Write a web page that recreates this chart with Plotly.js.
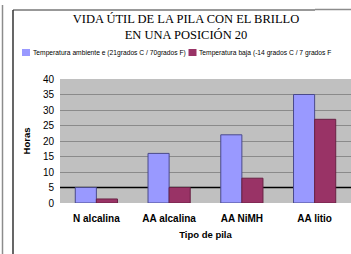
<!DOCTYPE html>
<html>
<head>
<meta charset="utf-8">
<script src="https://cdn.plot.ly/plotly-3.0.1.min.js"></script>
<style>html,body{margin:0;padding:0;background:#fff;}#chart{width:351px;height:254px;}</style>
</head>
<body>
<div id="chart"></div>
<script>
// Data
const categories = ["N alcalina", "AA alcalina", "AA NiMH", "AA litio"];
const seriesNames = ["Temperatura ambiente e (21grados C / 70grados F)", "Temperatura baja (-14 grados C / 7 grados F"];
const ambiente = [5, 16, 22, 35];
const baja = [1.3, 5, 8, 27];
const yTicks = [0, 5, 10, 15, 20, 25, 30, 35, 40];
const titleLines = ["VIDA ÚTIL DE LA PILA CON EL BRILLO", "EN UNA POSICIÓN 20"];

const colors = ["#9999ff", "#993366"];
const lineColors = ["#4a4a8a", "#6a2245"];

const traces = [ambiente, baja].map((vals, i) => ({
  type: "bar",
  name: seriesNames[i],
  x: categories,
  y: vals,
  marker: {color: colors[i], line: {color: lineColors[i], width: 1}},
  showlegend: false,
  hoverinfo: "none"
}));

// plot area in px: x 60..351, y 79..203
const L = 60, W = 291, T = 79, H = 124;
const px = X => (X - L) / W;
const py = Y => (T + H - Y) / H;

const legendFont = {family: "Liberation Sans Narrow, Arial Narrow, Liberation Sans, Arial, sans-serif", size: 6.7, color: "#000"};

const shapes = [
  {type: "line", xref: "x", yref: "y", x0: -0.5, x1: 3.5, y0: 5, y1: 5, layer: "between", line: {color: "#000", width: 1.3}},
  // frame lines
  {type: "line", xref: "paper", yref: "paper", x0: px(2.5), x1: px(2.5), y0: py(5), y1: py(254), line: {color: "#8c8c8c", width: 1.5}},
  {type: "line", xref: "paper", yref: "paper", x0: px(13), x1: px(13), y0: py(10), y1: py(254), line: {color: "#000", width: 1.2}},
  {type: "line", xref: "paper", yref: "paper", x0: px(13), x1: px(315), y0: py(10), y1: py(10), line: {color: "#333", width: 1}},
  {type: "line", xref: "paper", yref: "paper", x0: px(315), x1: px(351), y0: py(9.5), y1: py(9.5), line: {color: "#8c8c8c", width: 1.6}},
  // legend swatches
  {type: "rect", xref: "paper", yref: "paper", x0: px(22), x1: px(30), y0: py(56), y1: py(49), fillcolor: colors[0], line: {width: 0}},
  {type: "rect", xref: "paper", yref: "paper", x0: px(188.5), x1: px(196.5), y0: py(56), y1: py(49), fillcolor: colors[1], line: {width: 0}}
];

const annotations = [
  {xref: "paper", yref: "paper", x: px(30.5), y: py(52.5), xanchor: "left", yanchor: "middle", showarrow: false,
   text: seriesNames[0], font: legendFont},
  {xref: "paper", yref: "paper", x: px(197), y: py(52.5), xanchor: "left", yanchor: "middle", showarrow: false,
   text: seriesNames[1], font: legendFont}
];

const layout = {
  width: 351, height: 254,
  margin: {l: L, r: 0, t: T, b: 254 - T - H, pad: 0},
  paper_bgcolor: "#ffffff",
  plot_bgcolor: "#c0c0c0",
  barmode: "group",
  bargap: 0.42,
  bargroupgap: 0,
  showlegend: false,
  title: {
    text: titleLines.join("<br>"),
    font: {family: "Liberation Serif, Times New Roman, serif", size: 12.5, color: "#000"},
    x: 186 / 351, xref: "container", xanchor: "center",
    y: 1 - 23 / 254, yref: "container", yanchor: "top"
  },
  xaxis: {
    type: "category",
    range: [-0.5, 3.5],
    showgrid: false, zeroline: false, showline: false,
    ticks: "",
    ticklabelstandoff: 8,
    tickfont: {family: "Liberation Sans, Arial, sans-serif", size: 10, color: "#000", weight: "bold"},
    title: {text: "<b>Tipo de pila</b>", font: {family: "Liberation Sans, Arial, sans-serif", size: 9.5, color: "#000"}, standoff: 8}
  },
  yaxis: {
    range: [0, 40],
    tickvals: yTicks,
    showgrid: true, gridcolor: "#8a8a8a", gridwidth: 1,
    zeroline: false, showline: false,
    ticks: "",
    ticklabelstandoff: 5,
    tickfont: {family: "Liberation Sans, Arial, sans-serif", size: 10, color: "#000"},
    title: {text: "<b>Horas</b>", font: {family: "Liberation Sans, Arial, sans-serif", size: 9.5, color: "#000"}, standoff: 10}
  },
  shapes: shapes,
  annotations: annotations
};

Plotly.newPlot("chart", traces, layout, {displayModeBar: false, staticPlot: true});
</script>
</body>
</html>
